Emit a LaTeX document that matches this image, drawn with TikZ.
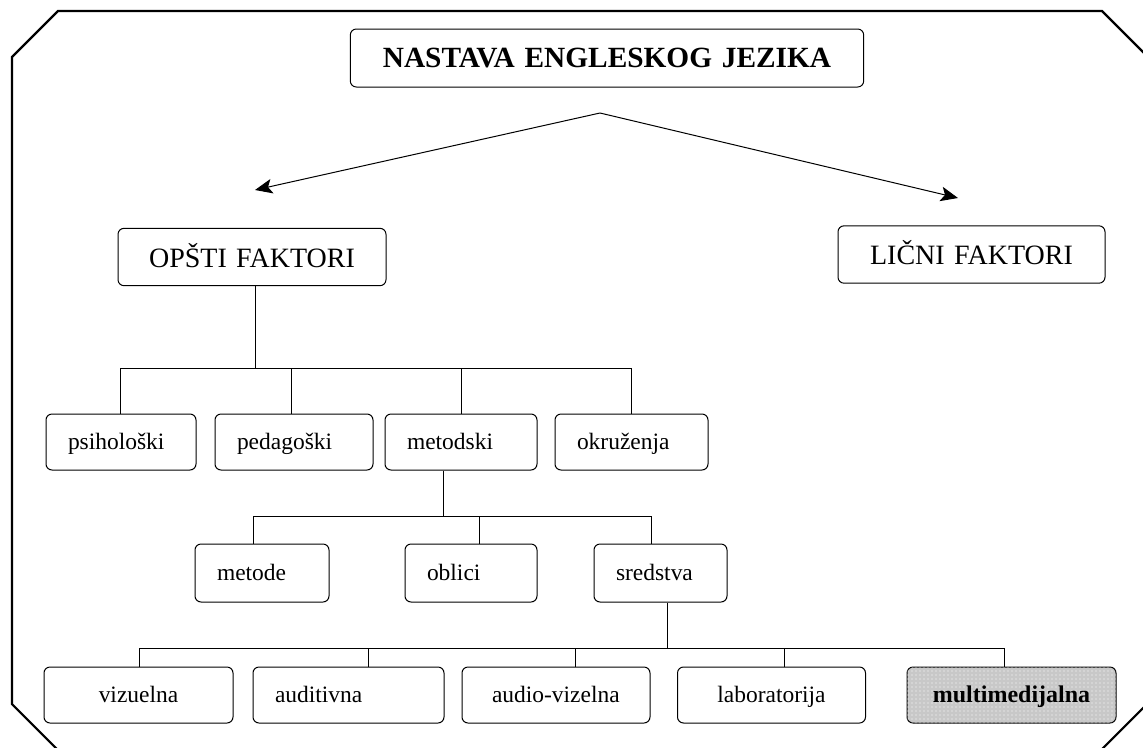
\documentclass[tikz,border=0pt]{standalone}
\usepackage{fontspec}
\setmainfont{Liberation Serif}
\usetikzlibrary{arrows.meta,patterns}
\begin{document}
\begin{tikzpicture}[x=0.75pt,y=-0.75pt,
  box/.style={draw, line width=0.75pt, rounded corners=4.5pt, inner xsep=16.5pt, inner ysep=0pt, align=left, text height=13pt, text depth=2pt, font=\fontsize{17.6}{20}\selectfont},
  bigbox/.style={box, align=center, minimum height=43pt, text height=17pt, text depth=2pt, font=\fontsize{21}{24}\selectfont},
  rowA/.style={box, minimum height=42pt},
  rowB/.style={box, minimum height=43.5pt},
  rowC/.style={box, minimum height=42pt},
  link/.style={line width=0.75pt},
  arr/.style={line width=0.75pt, -{Stealth[length=13pt,width=11pt,inset=3pt]}},
  frame/.style={line width=1.6pt},
  shade/.style={fill={rgb,255:red,200;green,200;blue,200}, postaction={pattern=dots, pattern color=white}}
]
\useasboundingbox (0,0) rectangle (1143,747);
\fill[white] (0,0) rectangle (1143,747);
\begin{scope}
  \clip (0,0) rectangle (1143,747);
  \draw[frame] (12,57) -- (58,11) -- (1102,11) -- (1150,59) -- (1150,701) -- (1101,750) -- (58,750) -- (12,704) -- cycle;
\end{scope}

% nodes
\node[box, align=center, text width=352pt, minimum height=43.5pt, text height=16pt, text depth=2pt, font=\bfseries\fontsize{22}{24}\selectfont] (title) at (607,58) {NASTAVA ENGLESKOG JEZIKA};
\node[bigbox, text width=168pt] (opsti) at (252,257) {OPŠTI FAKTORI};
\node[bigbox, text width=167.25pt] (licni) at (971.5,254.5) {LIČNI FAKTORI};

\node[rowA, text width=79.5pt] (psih) at (121,442) {psihološki};
\node[rowA, text width=85.5pt] (ped) at (294,442) {pedagoški};
\node[rowA, text width=81pt] (met) at (461,442) {metodski};
\node[rowA, text width=81.75pt] (okr) at (631.5,442) {okruženja};

\node[rowB, text width=67.5pt] (metode) at (262,573) {metode};
\node[rowB, text width=66pt] (oblici) at (471,573) {oblici};
\node[rowB, text width=66.75pt] (sred) at (660.5,573) {sredstva};

\node[rowC, align=center, text width=108.75pt] (viz) at (138.5,695) {vizuelna};
\node[rowC, text width=110.25pt] (aud) at (348.5,695) {auditivna};
\node[rowC, inner xsep=22.5pt, text width=96pt] (av) at (556,695) {\mbox{audio-vizelna}};
\node[rowC, align=center, text width=108pt] (lab) at (771.5,695) {laboratorija};
\node[rowC, shade, align=center, text width=123.75pt, font=\bfseries\fontsize{18}{20}\selectfont] (multi) at (1011.5,695) {multimedijalna};

% arrows from title
\coordinate (apex) at (600,113);
\coordinate (tipL) at (255,190);
\coordinate (tipR) at (958,198);
\draw[arr] (apex) -- (tipL);
\draw[arr] (apex) -- (tipR);

% level 1 bus
\coordinate (k0) at (255,368);
\coordinate (k1) at (120,368);
\coordinate (k2) at (291,368);
\coordinate (k3) at (461,368);
\coordinate (k4) at (631,368);
\draw[link] (opsti.south -| k0) -- (k0);
\draw[link] (k1) -- (k4);
\draw[link] (k1) -- (k1 |- psih.north);
\draw[link] (k2) -- (k2 |- ped.north);
\draw[link] (k3) -- (k3 |- met.north);
\draw[link] (k4) -- (k4 |- okr.north);

% level 2 bus
\coordinate (m0) at (443,516);
\coordinate (m1) at (253,516);
\coordinate (m2) at (479,516);
\coordinate (m3) at (651,516);
\draw[link] (met.south -| m0) -- (m0);
\draw[link] (m1) -- (m3);
\draw[link] (m1) -- (m1 |- metode.north);
\draw[link] (m2) -- (m2 |- oblici.north);
\draw[link] (m3) -- (m3 |- sred.north);

% level 3 bus
\coordinate (s0) at (667,648);
\coordinate (s1) at (139,648);
\coordinate (s2) at (368,648);
\coordinate (s3) at (575,648);
\coordinate (s4) at (784,648);
\coordinate (s5) at (1004,648);
\draw[link] (sred.south -| s0) -- (s0);
\draw[link] (s1) -- (s5);
\draw[link] (s1) -- (s1 |- viz.north);
\draw[link] (s2) -- (s2 |- aud.north);
\draw[link] (s3) -- (s3 |- av.north);
\draw[link] (s4) -- (s4 |- lab.north);
\draw[link] (s5) -- (s5 |- multi.north);
\end{tikzpicture}
\end{document}
